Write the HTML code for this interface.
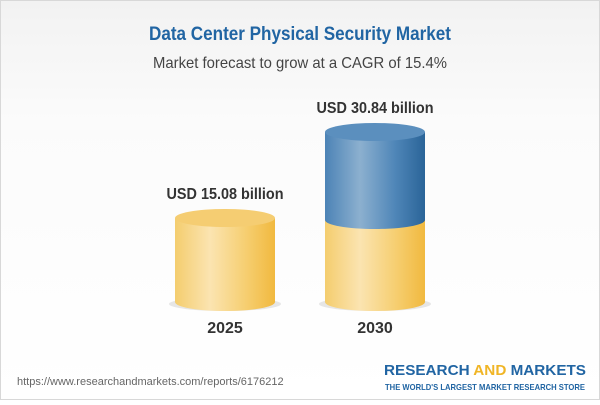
<!DOCTYPE html>
<html><head><style>
html,body{margin:0;padding:0;}
body{width:600px;height:400px;overflow:hidden;}
</style></head><body>
<svg width="600" height="400" viewBox="0 0 600 400" xmlns="http://www.w3.org/2000/svg" font-family="Liberation Sans, sans-serif">
<defs>
<linearGradient id="bg" x1="0" y1="0" x2="0" y2="1"><stop offset="0" stop-color="#f2f2f2"/><stop offset="0.3" stop-color="#fbfbfb"/><stop offset="1" stop-color="#ffffff"/></linearGradient>
<linearGradient id="yel" x1="0" y1="0" x2="1" y2="0"><stop offset="0" stop-color="#f4cd6e"/><stop offset="0.35" stop-color="#fbe4b1"/><stop offset="0.7" stop-color="#f6cf72"/><stop offset="1" stop-color="#f1b93f"/></linearGradient>
<linearGradient id="blu" x1="0" y1="0" x2="1" y2="0"><stop offset="0" stop-color="#4c83b6"/><stop offset="0.35" stop-color="#8cb0cf"/><stop offset="0.7" stop-color="#4f86b8"/><stop offset="1" stop-color="#2a6498"/></linearGradient>
</defs>
<rect x="0.5" y="0.5" width="599" height="399" fill="url(#bg)" stroke="#d8d8d8"/>
<text x="300" y="40" text-anchor="middle" font-size="19" font-weight="bold" fill="#2165a3" textLength="302" lengthAdjust="spacingAndGlyphs">Data Center Physical Security Market</text>
<text x="300" y="68" text-anchor="middle" font-size="16" fill="#444" textLength="294" lengthAdjust="spacingAndGlyphs">Market forecast to grow at a CAGR of 15.4%</text>
<ellipse cx="225" cy="304" rx="56" ry="7" fill="#e6e6e6"/>
<ellipse cx="375" cy="304" rx="56" ry="7" fill="#e6e6e6"/>
<!-- cyl 1 -->
<path d="M175 218 V302 A50 9 0 0 0 275 302 V218 Z" fill="url(#yel)"/>
<ellipse cx="225" cy="218" rx="50" ry="9" fill="#f5cd72"/>
<!-- cyl 2 -->
<path d="M325 220 V302 A50 9 0 0 0 425 302 V220 Z" fill="url(#yel)"/>
<path d="M325 132 V220 A50 9 0 0 0 425 220 V132 Z" fill="url(#blu)"/>
<ellipse cx="375" cy="132" rx="50" ry="9" fill="#5b8fbe"/>
<text x="225" y="199" text-anchor="middle" font-size="16" font-weight="bold" fill="#333" textLength="117" lengthAdjust="spacingAndGlyphs">USD 15.08 billion</text>
<text x="375" y="113" text-anchor="middle" font-size="16" font-weight="bold" fill="#333" textLength="117" lengthAdjust="spacingAndGlyphs">USD 30.84 billion</text>
<text x="225" y="333" text-anchor="middle" font-size="16" font-weight="bold" fill="#333">2025</text>
<text x="375" y="333" text-anchor="middle" font-size="16" font-weight="bold" fill="#333">2030</text>
<text x="17" y="385" font-size="11" fill="#666">https://www.researchandmarkets.com/reports/6176212</text>
<text x="384" y="375" font-size="15" font-weight="bold" fill="#2165a3" textLength="202" lengthAdjust="spacingAndGlyphs">RESEARCH <tspan fill="#f0b526">AND</tspan> MARKETS</text>
<text x="385" y="390" font-size="8.5" font-weight="bold" fill="#2165a3" textLength="200" lengthAdjust="spacingAndGlyphs">THE WORLD'S LARGEST MARKET RESEARCH STORE</text>
</svg>
</body></html>
